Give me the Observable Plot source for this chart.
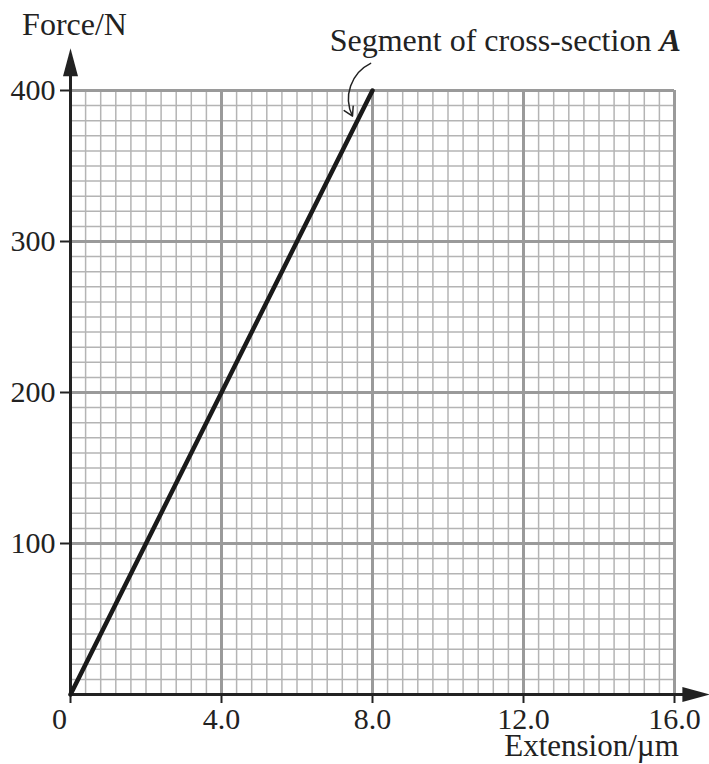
<!DOCTYPE html>
<html>
<head>
<meta charset="utf-8">
<script src="https://cdn.jsdelivr.net/npm/d3@7"></script>
<script src="https://cdn.jsdelivr.net/npm/@observablehq/plot@0.6"></script>
<style>
  html, body { margin: 0; padding: 0; background: white; }
  #chart svg { display: block; }
</style>
</head>
<body>
<div id="chart"></div>
<script>
// ---- data ----
const xTicks = [0, 4, 8, 12, 16];
const xTickLabels = ["0", "4.0", "8.0", "12.0", "16.0"];
const yTicks = [100, 200, 300, 400];
const yTickLabels = ["100", "200", "300", "400"];
const extension = [0, 8];      // µm
const force = [0, 400];        // N
const xMinorStep = 0.4;
const yMinorStep = 10;
const xAxisTitle = "Extension/µm";
const yAxisTitle = "Force/N";
const calloutText = "Segment of cross-section";
const calloutLetter = "A";
const calloutFrom = {x: 7.95, y: 418};
const calloutTo = {x: 7.47, y: 383};
const calloutTextAt = {x: 15.6, y: 433};
const xAxisEnd = 16.95;
const yAxisEnd = 428;

const lineData = extension.map((e, i) => ({e, f: force[i]}));
const minorX = d3.range(0, 16 / xMinorStep + 1).filter(i => i % 10 !== 0).map(i => i * xMinorStep);
const minorY = d3.range(0, 400 / yMinorStep + 1).filter(i => i % 10 !== 0).map(i => i * yMinorStep);

const ink = "#222";
const serif = "'Liberation Serif', 'Times New Roman', serif";

const arrowHead = {
  draw(ctx) {
    ctx.moveTo(0, 0);
    ctx.lineTo(7.5, 28);
    ctx.lineTo(-7.5, 28);
    ctx.closePath();
  }
};

const chart = Plot.plot({
  width: 709,
  height: 764,
  marginLeft: 70,
  marginRight: 35,
  marginTop: 90,
  marginBottom: 70,
  x: {domain: [0, 16]},
  y: {domain: [0, 400]},
  style: {fontFamily: serif, background: "white", color: ink, overflow: "visible"},
  marks: [
    // minor grid
    Plot.ruleX(minorX, {y1: 0, y2: 400, stroke: "#b4b4b4", strokeWidth: 1.5}),
    Plot.ruleY(minorY, {x1: 0, x2: 16, stroke: "#b4b4b4", strokeWidth: 1.5}),
    // major grid
    Plot.ruleX(xTicks.filter(d => d > 0), {y1: 0, y2: 400, stroke: "#9a9a9a", strokeWidth: 3}),
    Plot.ruleY(yTicks, {x1: 0, x2: 16, stroke: "#9a9a9a", strokeWidth: 3}),
    // axes
    Plot.axisX(xTicks, {
      tickSize: 9, tickPadding: 4, strokeWidth: 2, stroke: ink, fill: ink,
      fontSize: 30, fontFamily: serif,
      tickFormat: d => d === 0 ? "" : xTickLabels[xTicks.indexOf(d)]
    }),
    Plot.text([xTickLabels[0]], {x: xTicks[0], y: 0, dx: -11, dy: 13, lineAnchor: "top", fontSize: 30, fill: ink}),
    Plot.axisY(yTicks, {
      tickSize: 10, tickPadding: 5, strokeWidth: 2, stroke: ink, fill: ink,
      fontSize: 30, fontFamily: serif,
      tickFormat: d => yTickLabels[yTicks.indexOf(d)]
    }),
    Plot.ruleY([0], {x1: 0, x2: xAxisEnd - 0.3, stroke: ink, strokeWidth: 3}),
    Plot.ruleX([0], {y1: 0, y2: yAxisEnd - 10, stroke: ink, strokeWidth: 3}),
    Plot.dot([{x: xAxisEnd, y: 0}], {x: "x", y: "y", symbol: arrowHead, rotate: 90, fill: ink, stroke: "none"}),
    Plot.dot([{x: 0, y: yAxisEnd}], {x: "x", y: "y", symbol: arrowHead, fill: ink, stroke: "none"}),
    // axis titles
    Plot.text([yAxisTitle], {frameAnchor: "top-left", dx: 4, dy: -66, textAnchor: "middle", lineAnchor: "middle", fontSize: 32, fill: ink}),
    Plot.text([xAxisTitle], {frameAnchor: "bottom-right", dx: -83, dy: 52, textAnchor: "middle", lineAnchor: "middle", fontSize: 31, fill: ink}),
    // data line
    Plot.line(lineData, {x: "e", y: "f", stroke: "#1a1a1a", strokeWidth: 4.5}),
    // callout
    Plot.arrow([calloutFrom], {x1: "x", y1: "y", x2: calloutTo.x, y2: calloutTo.y, bend: -45, headLength: 10, stroke: ink, strokeWidth: 1.5}),
    Plot.text([calloutText], {x: calloutTextAt.x, y: calloutTextAt.y, dx: -8, textAnchor: "end", fontSize: 32, fill: ink}),
    Plot.text([calloutLetter], {x: calloutTextAt.x, y: calloutTextAt.y, textAnchor: "start", fontSize: 32, fontWeight: "bold", fontStyle: "italic", fill: ink})
  ]
});
document.getElementById("chart").appendChild(chart);
</script>
</body>
</html>
